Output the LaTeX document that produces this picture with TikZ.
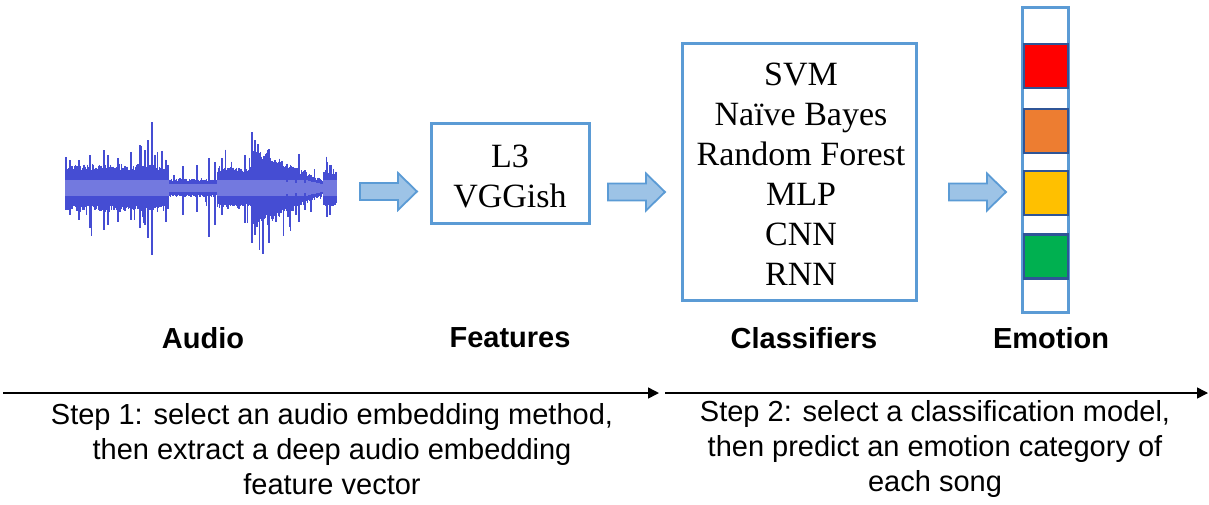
\documentclass[tikz,border=0pt]{standalone}
\usepackage{fontspec}
\setmainfont{Liberation Serif}
\setsansfont{Liberation Sans}
\usetikzlibrary{calc,arrows.meta}
\definecolor{boxblue}{HTML}{5B9BD5}
\definecolor{arrfill}{HTML}{9DC3E6}
\definecolor{sqedge}{HTML}{2F5597}
\definecolor{wavedark}{HTML}{454DD3}
\definecolor{wavelight}{HTML}{7379DF}
\definecolor{emred}{HTML}{FF0000}
\definecolor{emorange}{HTML}{ED7D31}
\definecolor{emyellow}{HTML}{FFC000}
\definecolor{emgreen}{HTML}{00B050}
\begin{document}
\begin{tikzpicture}[x=1pt,y=-1pt,
  box/.style={draw=boxblue, line width=3pt, fill=white, rectangle, inner sep=0pt},
  sq/.style={draw=sqedge, line width=2.4pt, minimum width=44pt, minimum height=44pt, inner sep=0pt},
  lbl/.style={font=\sffamily\bfseries\fontsize{29}{34}\selectfont, inner sep=0pt},
  steptext/.style={font=\sffamily\fontsize{29}{35}\selectfont, align=center, inner sep=0pt},
  serif/.style={font=\rmfamily\fontsize{34}{40}\selectfont, align=center, inner sep=0pt},
  timeline/.style={line width=1.5pt, -{Triangle[length=11pt,width=11pt]}},
  blockarr/.pic={\path[draw=boxblue, fill=arrfill, line width=1.8pt, line join=miter]
     (-28.5,-8.5) -- (9.5,-8.5) -- (9.5,-18.5) -- (28.5,0) -- (9.5,18.5) -- (9.5,8.5) -- (-28.5,8.5) -- cycle;}
]
\useasboundingbox (0,0) rectangle (1209,504);

% ---------- waveform ----------
\pgfmathsetseed{11}
\foreach \x in {66,67.2,...,337} {
  \pgfmathsetmacro\env{(\x<168)?21:((\x<217)?8:((\x<253)?19:((\x<323)?(7+30*(323-\x)/70):16)))}
  \pgfmathsetmacro\up{\env*(0.85+0.3*rnd)+((rnd>0.87)?(\env*1.2*rnd):0)}
  \pgfmathsetmacro\dn{\env*(0.85+0.3*rnd)+((rnd>0.87)?(\env*1.2*rnd):0)}
  \pgfmathsetmacro\core{min(8,0.55*\env)}
  \draw[wavedark, line width=1.4pt] (\x,188-\up) -- (\x,188+\dn);
  \draw[wavelight, line width=1.4pt] (\x,188-\core) -- (\x,188+\core);
}
\foreach \x/\t/\b in {152/122/255, 148/140/238, 145/150/225, 140/145/228, 131/152/220,
   104/150/230, 90/155/228, 79/160/220, 108/155/225, 166/160/222, 183/166/215,
   197/165/212, 209/158/237, 215/162/225, 252/132/243, 255/140/235, 268/150/225,
   287/170/210, 296/168/215, 305/170/210, 327/162/217, 330/165/215, 245/155/223,
   222/158/215, 118/158/222, 70/160/215}
  \draw[wavedark, line width=2.2pt] (\x,\t) -- (\x,\b);
\foreach \x/\t/\b in {152/180/196, 148/180/196, 145/180/196, 140/180/196, 131/180/196,
   104/180/196, 90/180/196, 79/180/196, 108/180/196, 166/180/196, 183/184/192,
   197/184/192, 209/184/192, 215/184/192, 252/180/196, 255/180/196, 268/180/196,
   287/182/194, 296/183/193, 305/183/193, 327/180/196, 330/180/196, 245/180/196,
   222/180/196, 118/180/196, 70/180/196}
  \draw[wavelight, line width=2.2pt] (\x,\t) -- (\x,\b);
\coordinate (wave) at (203,188);

% ---------- nodes ----------
\node[box, minimum width=158pt, minimum height=100pt] (feat) at (510,173) {};
\node[serif] (feattext) at (510,176) {L3\\VGGish};

\node[box, minimum width=234pt, minimum height=257pt] (clf) at (799,171.5) {};
\node[serif] (clftext) at (801,174) {SVM\\Naïve Bayes\\Random Forest\\MLP\\CNN\\RNN};

\node[box, minimum width=46pt, minimum height=305pt] (emo) at (1045,159.5) {};
\node[sq, fill=emred]    (e1) at (1046,66) {};
\node[sq, fill=emorange] (e2) at (1046,131) {};
\node[sq, fill=emyellow] (e3) at (1046,193) {};
\node[sq, fill=emgreen]  (e4) at (1046,256.5) {};

% ---------- block arrows ----------
\coordinate (a1) at (388.5,191.5);
\coordinate (a2) at (636.5,192);
\coordinate (a3) at (977.5,192);
\pic at (a1) {blockarr};
\pic at (a2) {blockarr};
\pic at (a3) {blockarr};

% ---------- labels ----------
\node[lbl] (laudio) at (203,338) {Audio};
\node[lbl] (lfeat)  at (510,338) {Features};
\node[lbl] (lclf)   at (804,338) {Classifiers};
\node[lbl] (lemo)   at (1051,338) {Emotion};

% ---------- timeline ----------
\coordinate (t0) at (3,393);
\coordinate (t1) at (659,393);
\coordinate (t2) at (665,393);
\coordinate (t3) at (1208,393);
\draw[timeline] (t0) -- (t1);
\draw[timeline] (t2) -- (t3);

\node[steptext] (s1) at (332,449) {Step 1: select an audio embedding method,\\then extract a deep audio embedding\\feature vector};
\node[steptext] (s2) at (935,449) {Step 2: select a classification model,\\then predict an emotion category of\\each song};
\end{tikzpicture}
\end{document}
